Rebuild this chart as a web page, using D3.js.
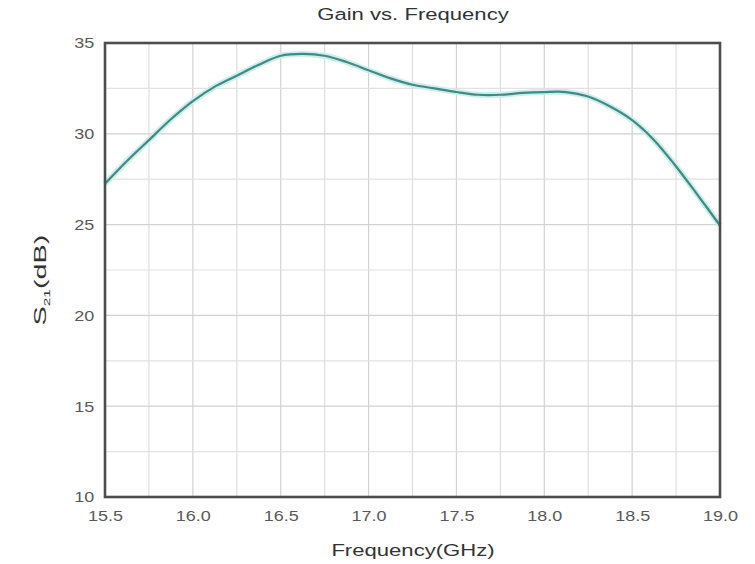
<!DOCTYPE html>
<html>
<head>
<meta charset="utf-8">
<script src="https://cdn.jsdelivr.net/npm/d3@7"></script>
<style>
  html, body { margin: 0; padding: 0; background: #fff; }
  svg { display: block; }
  text { font-family: "Liberation Sans", Arial, sans-serif; }
</style>
</head>
<body>
<svg id="chart" width="755" height="564"></svg>
<script>
// ---- data ----
const frequency = [15.5, 15.625, 15.75, 15.875, 16.0, 16.125, 16.25, 16.375, 16.5, 16.625,
                   16.75, 16.875, 17.0, 17.125, 17.25, 17.375, 17.5, 17.625, 17.75, 17.875,
                   18.0, 18.125, 18.25, 18.375, 18.5, 18.625, 18.75, 18.875, 19.0];
const gain = [27.25, 28.5, 29.65, 30.8, 31.8, 32.6, 33.2, 33.8, 34.3, 34.4,
              34.3, 33.95, 33.5, 33.05, 32.7, 32.5, 32.3, 32.15, 32.15, 32.25,
              32.3, 32.3, 32.05, 31.5, 30.75, 29.65, 28.2, 26.6, 24.95];
const xTicks = [15.5, 16.0, 16.5, 17.0, 17.5, 18.0, 18.5, 19.0];
const yTicks = [10, 15, 20, 25, 30, 35];
const xGrid = [15.75, 16.0, 16.25, 16.5, 16.75, 17.0, 17.25, 17.5, 17.75, 18.0, 18.25, 18.5, 18.75];
const yGrid = [12.5, 15, 17.5, 20, 22.5, 25, 27.5, 30, 32.5];
const titleText = "Gain vs. Frequency";
const xLabel = "Frequency(GHz)";

// ---- layout ----
const svg = d3.select("#chart");
const pLeft = 105, pRight = 720, pTop = 43, pBottom = 497;
const x = d3.scaleLinear().domain([15.5, 19.0]).range([pLeft, pRight]);
const y = d3.scaleLinear().domain([10, 35]).range([pBottom, pTop]);

// grid
const g = svg.append("g");
g.selectAll("line.vg").data(xGrid).enter().append("line")
  .attr("x1", d => x(d)).attr("x2", d => x(d))
  .attr("y1", pTop).attr("y2", pBottom)
  .attr("stroke", d => (Math.abs(d * 2 - Math.round(d * 2)) < 1e-6) ? "#d2d2d2" : "#dedede")
  .attr("stroke-width", 1.2);
g.selectAll("line.hg").data(yGrid).enter().append("line")
  .attr("x1", pLeft).attr("x2", pRight)
  .attr("y1", d => y(d)).attr("y2", d => y(d))
  .attr("stroke", d => (d % 5 === 0) ? "#d2d2d2" : "#e2e2e2")
  .attr("stroke-width", 1.2);

// curve
const line = d3.line().x((d, i) => x(frequency[i])).y(d => y(d)).curve(d3.curveCatmullRom.alpha(0.5));
svg.append("path").datum(gain).attr("d", line)
  .attr("fill", "none").attr("stroke", "#cdeeeb").attr("stroke-width", 6).attr("stroke-linejoin", "round");
svg.append("path").datum(gain).attr("d", line)
  .attr("fill", "none").attr("stroke", "#3f8a84").attr("stroke-width", 2.2).attr("stroke-linejoin", "round");

// frame
svg.append("rect").attr("x", pLeft).attr("y", pTop)
  .attr("width", pRight - pLeft).attr("height", pBottom - pTop)
  .attr("fill", "none").attr("stroke", "#4d4d4d").attr("stroke-width", 2.6);

// axes
const xAxis = d3.axisBottom(x).tickValues(xTicks).tickSize(0).tickPadding(13).tickFormat(d3.format(".1f"));
const gx = svg.append("g").attr("transform", `translate(0,${pBottom})`).call(xAxis);
gx.select(".domain").remove();
gx.selectAll("text").attr("font-size", 15).attr("fill", "#5a5a5a")
  .attr("font-family", "Liberation Sans, Arial, sans-serif")
  .attr("transform", "scale(1.2,1)");

const yAxis = d3.axisLeft(y).tickValues(yTicks).tickSize(0).tickPadding(9).tickFormat(d3.format("d"));
const gy = svg.append("g").attr("transform", `translate(${pLeft},0)`).call(yAxis);
gy.select(".domain").remove();
gy.selectAll("text").attr("font-size", 15).attr("fill", "#5a5a5a")
  .attr("font-family", "Liberation Sans, Arial, sans-serif")
  .attr("transform", "scale(1.2,1)");

// title
svg.append("text")
  .attr("transform", "translate(413,20) scale(1.3,1)")
  .attr("text-anchor", "middle").attr("font-size", 17).attr("fill", "#333")
  .text(titleText);

// x label
svg.append("text")
  .attr("transform", "translate(413,556) scale(1.3,1)")
  .attr("text-anchor", "middle").attr("font-size", 17).attr("fill", "#333")
  .text(xLabel);

// y label S21(dB)
const yl = svg.append("text")
  .attr("transform", "translate(46,280) rotate(-90) scale(1.7,1)")
  .attr("text-anchor", "middle").attr("font-size", 17).attr("fill", "#333");
yl.append("tspan").text("S");
yl.append("tspan").attr("font-size", 9).attr("dy", 4).text("21");
yl.append("tspan").attr("dy", -4).text("(dB)");
</script>
</body>
</html>
